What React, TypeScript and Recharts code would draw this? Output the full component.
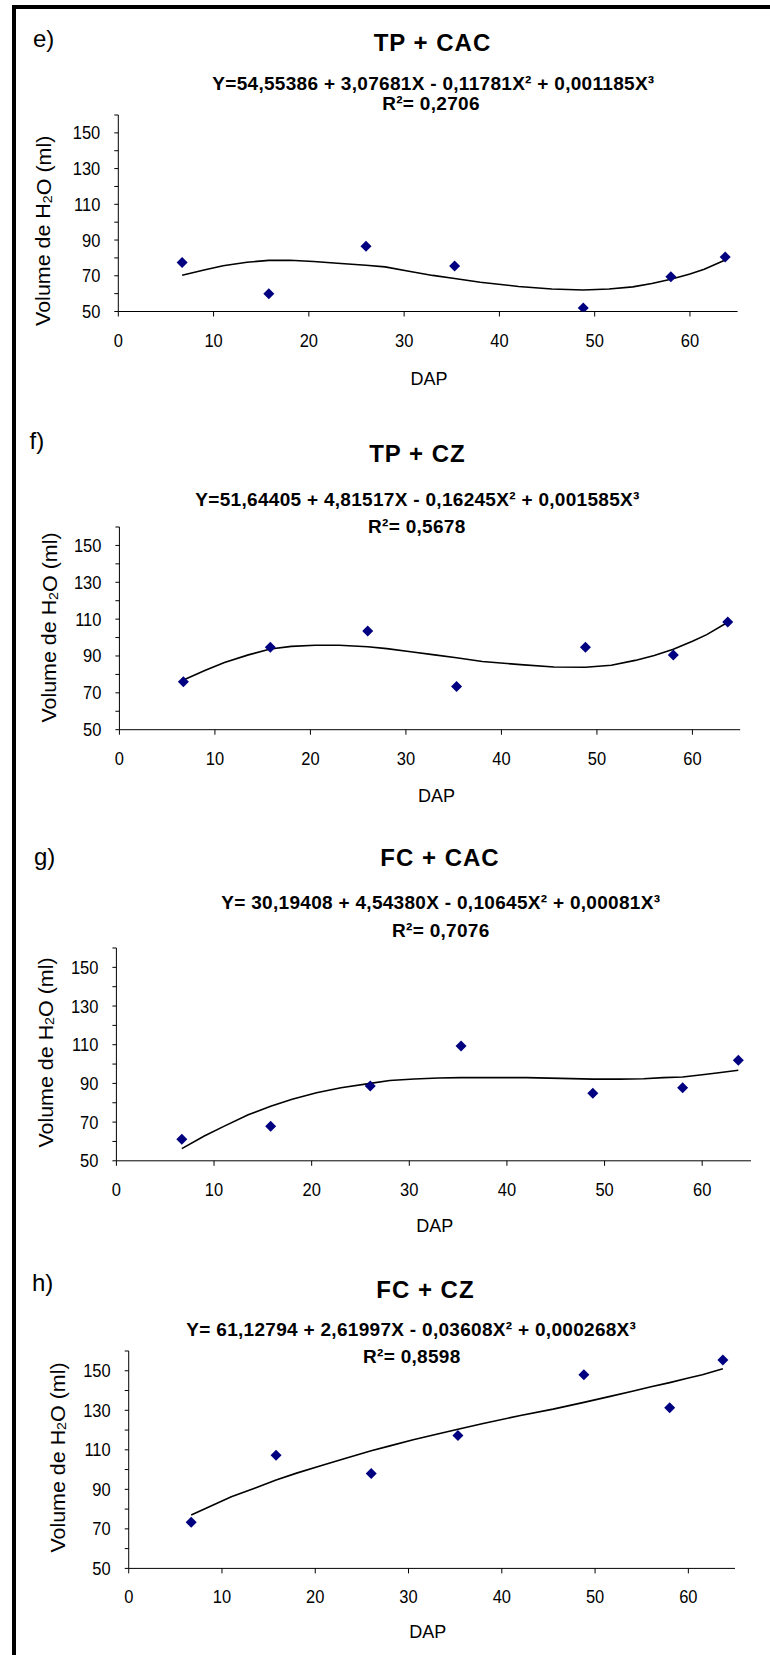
import { ScatterChart, Scatter, XAxis, YAxis } from 'recharts'

// DAP of the seven sampled trees (shared by every panel)
const DAP = [6.7, 15.8, 26, 35.3, 48.8, 58, 63.7]

// observed water volumes (ml)
const VOL_TP_CAC = [77.5, 60, 86.5, 75.5, 52, 69.5, 80.5]
const VOL_TP_CZ = [76, 94.7, 103.5, 73.4, 94.7, 90.5, 108.5]
const VOL_FC_CAC = [61.2, 67.9, 88.6, 109.3, 84.9, 87.8, 102]
const VOL_FC_CZ = [73.3, 107.2, 98, 117.3, 148, 131.3, 155.4]

// fitted curve
const CURVE_X = [6.7, 9, 11, 13.5, 15.8, 18, 20.5, 23, 26, 28, 30.5, 33, 35.3, 38, 42, 45.5, 48.8, 51.5, 54, 56, 58, 60, 61.5, 63.7]
const FIT_TP_CAC = [70.3, 73.2, 75.6, 77.6, 78.6, 78.7, 78, 77, 75.9, 75, 72.5, 70.2, 68.5, 66.4, 64, 62.6, 62, 62.6, 63.8, 65.7, 68, 71, 73.6, 78.8]
const FIT_TP_CZ = [77, 82.2, 86.5, 90.6, 93.8, 95.2, 95.8, 95.8, 95, 94, 92.3, 90.6, 89, 87, 85.3, 84, 83.9, 85, 87.6, 90.3, 93.6, 98, 101.6, 108.3]
const FIT_FC_CAC = [56.3, 62.8, 67.8, 73.8, 78.2, 81.8, 85.2, 87.8, 90, 91.5, 92.3, 92.8, 93, 93, 93, 92.6, 92.2, 92.2, 92.4, 93, 93.3, 94.5, 95.4, 96.8]
const FIT_FC_CZ = [77, 82, 86.2, 90.6, 94.7, 98.2, 101.8, 105.4, 109.5, 112, 115.1, 117.9, 120.4, 123.3, 127.4, 130.6, 134, 136.9, 139.6, 141.9, 144, 146.3, 148, 151]

const X_TICKS = [0, 10, 20, 30, 40, 50, 60]
const Y_TICKS = [50, 60, 70, 80, 90, 100, 110, 120, 130, 140, 150, 160]
const Y_LABELED = [50, 70, 90, 110, 130, 150]

const TAGS = ['e)', 'f)', 'g)', 'h)']
const TITLES = ['TP + CAC', 'TP + CZ', 'FC + CAC', 'FC + CZ']
const EQUATIONS = [
  'Y=54,55386 + 3,07681X - 0,11781X² + 0,001185X³',
  'Y=51,64405 + 4,81517X - 0,16245X² + 0,001585X³',
  'Y= 30,19408 + 4,54380X - 0,10645X² + 0,00081X³',
  'Y= 61,12794 + 2,61997X - 0,03608X² + 0,000268X³',
]
const R2 = ['0,2706', '0,5678', '0,7076', '0,8598']

const VOLUMES = [VOL_TP_CAC, VOL_TP_CZ, VOL_FC_CAC, VOL_FC_CZ]
const FITS = [FIT_TP_CAC, FIT_TP_CZ, FIT_FC_CAC, FIT_FC_CZ]

// plot boxes and text anchors per panel (page pixels)
const LAYOUT = [
  { left: 118.3, right: 737.6, top: 114.8, bottom: 311.3, tag: [33, 46.8], title: [432.5, 51], eq: [433.4, 90], r2: [431, 110], dap: [429, 385], ylab: [43, 230.8] },
  { left: 119.4, right: 740.2, top: 527.3, bottom: 730, tag: [29.5, 449], title: [417.5, 461.7], eq: [417.5, 506], r2: [416.8, 533], dap: [436.6, 801.7], ylab: [49, 627.5] },
  { left: 116.4, right: 751, top: 947.9, bottom: 1160.7, tag: [34, 864.5], title: [440, 866], eq: [440.8, 909.3], r2: [440.8, 936.7], dap: [434.7, 1231.7], ylab: [45.4, 1052.5] },
  { left: 128.7, right: 735, top: 1350.9, bottom: 1568.3, tag: [32, 1290.8], title: [425.4, 1298.3], eq: [411.3, 1336], r2: [411.8, 1362.7], dap: [427.8, 1638.3], ylab: [57.7, 1457.5] },
]

const FONT = "'Liberation Sans', Arial, sans-serif"
const PAGE_W = 770
const PAGE_H = 1655

const Diamond = (props: any) => {
  const { cx, cy } = props
  const r = 5.5
  return <polygon points={`${cx},${cy - r} ${cx + r},${cy} ${cx},${cy + r} ${cx - r},${cy}`} fill="#000080" />
}

const NoDot = () => <g />

// tick labels in the source are a little taller than wide
const XTick = (props: any) => {
  const { x, y, payload } = props
  return (
    <text
      transform={`translate(${x} ${y + 30}) scale(1 1.1)`}
      textAnchor="middle"
      fontSize={16.5}
      fontFamily={FONT}
      fill="#000"
    >
      {payload.value}
    </text>
  )
}

const YTick = (props: any) => {
  const { x, y, payload } = props
  if (!Y_LABELED.includes(payload.value)) return <g />
  return (
    <text
      transform={`translate(${x - 14} ${y + 6.5}) scale(1 1.1)`}
      textAnchor="end"
      fontSize={16.5}
      fontFamily={FONT}
      fill="#000"
    >
      {payload.value}
    </text>
  )
}

function Panel({ idx }: { idx: number }) {
  const L = LAYOUT[idx]
  const chartTop = L.top - 20
  const chartH = L.bottom - chartTop + 45
  const points = DAP.map((x, i) => ({ x, y: VOLUMES[idx][i] }))
  const curve = CURVE_X.map((x, i) => ({ x, y: FITS[idx][i] }))

  return (
    <div style={{ position: 'absolute', left: 0, top: chartTop }}>
      <ScatterChart
        width={PAGE_W}
        height={chartH}
        margin={{ top: 20, right: PAGE_W - L.right, left: L.left - 60, bottom: 15 }}
      >
        <XAxis
          type="number"
          dataKey="x"
          domain={[0, 65]}
          ticks={X_TICKS}
          interval={0}
          allowDataOverflow
          height={30}
          tickSize={5}
          tickMargin={0}
          axisLine={{ stroke: '#000' }}
          tickLine={{ stroke: '#000' }}
          tick={<XTick />}
        />
        <YAxis
          type="number"
          dataKey="y"
          domain={[50, 160]}
          ticks={Y_TICKS}
          interval={0}
          allowDataOverflow
          width={60}
          tickSize={4}
          tickMargin={0}
          axisLine={{ stroke: '#000' }}
          tickLine={{ stroke: '#000' }}
          tick={<YTick />}
        />
        <Scatter
          data={curve}
          line={{ stroke: '#000', strokeWidth: 1.6 }}
          lineType="joint"
          shape={<NoDot />}
          isAnimationActive={false}
        />
        <Scatter data={points} shape={<Diamond />} isAnimationActive={false} />
      </ScatterChart>
    </div>
  )
}

function Labels() {
  return (
    <svg
      width={PAGE_W}
      height={PAGE_H}
      style={{ position: 'absolute', left: 0, top: 0, pointerEvents: 'none' }}
      fontFamily={FONT}
    >
      {LAYOUT.map((L, i) => (
        <g key={i}>
          <text x={L.tag[0]} y={L.tag[1]} fontSize={24} fill="#000">{TAGS[i]}</text>
          <text x={L.title[0]} y={L.title[1]} fontSize={24} fontWeight="bold" letterSpacing={1} textAnchor="middle" fill="#000">
            {TITLES[i]}
          </text>
          <text x={L.eq[0]} y={L.eq[1]} fontSize={19} fontWeight="bold" letterSpacing={0.3} textAnchor="middle" fill="#000">
            {EQUATIONS[i]}
          </text>
          <text x={L.r2[0]} y={L.r2[1]} fontSize={19} fontWeight="bold" letterSpacing={0.3} textAnchor="middle" fill="#000">
            {`R²= ${R2[i]}`}
          </text>
          <text x={L.dap[0]} y={L.dap[1]} fontSize={18} textAnchor="middle" fill="#000">DAP</text>
          <text
            transform={`translate(${L.ylab[0]} ${L.ylab[1]}) rotate(-90) scale(1.1 1)`}
            fontSize={19.5}
            textAnchor="middle"
            dominantBaseline="central"
            fill="#000"
          >
            Volume de H<tspan fontSize={13} dy={4}>2</tspan><tspan dy={-4}>O (ml)</tspan>
          </text>
        </g>
      ))}
    </svg>
  )
}

export default function App() {
  return (
    <div style={{ position: 'absolute', left: 0, top: 0, width: PAGE_W, height: PAGE_H, background: '#fff', overflow: 'hidden' }}>
      <div
        style={{
          position: 'absolute',
          left: 12,
          top: 5,
          width: PAGE_W,
          height: PAGE_H,
          borderLeft: '4px solid #000',
          borderTop: '4px solid #000',
        }}
      />
      {[0, 1, 2, 3].map(i => (
        <Panel key={i} idx={i} />
      ))}
      <Labels />
    </div>
  )
}
